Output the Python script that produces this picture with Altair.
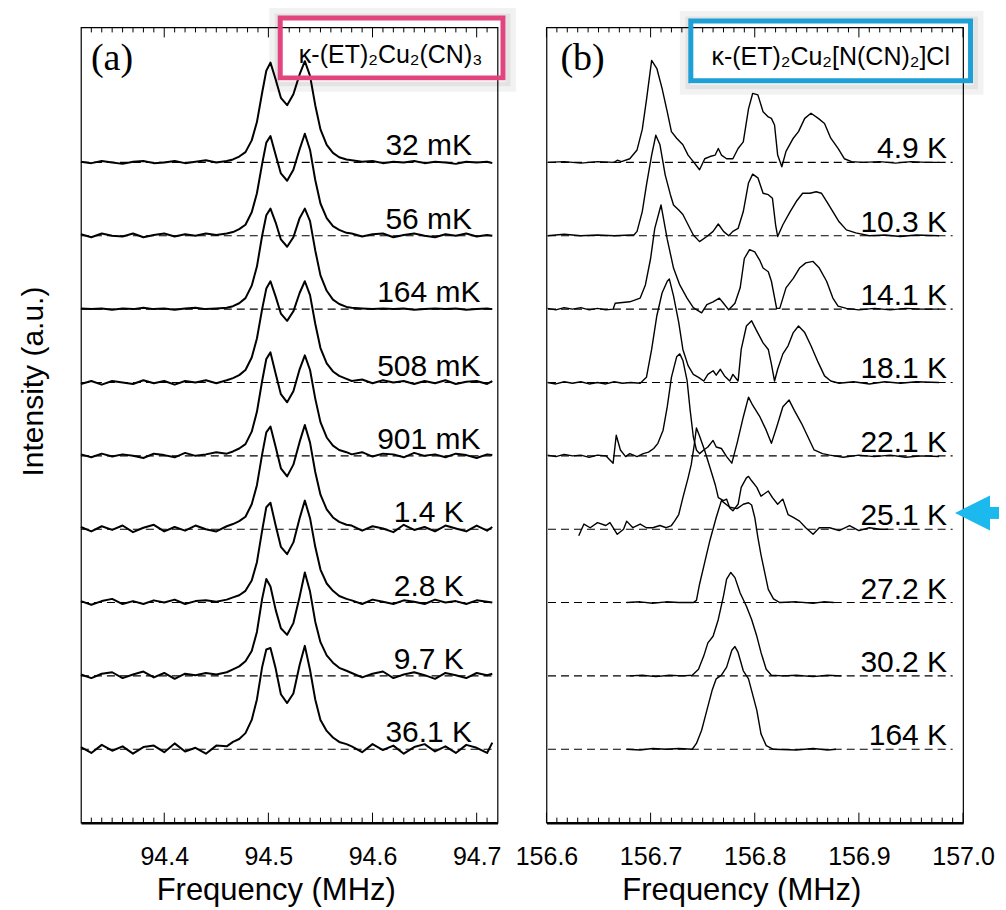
import altair as alt
import pandas as pd

FONT = "Liberation Sans"
PINK = "#E2447E"
BLUE = "#1E9FD6"
ARROW = "#1CB9EE"

# ---------------- panel (a): kappa-(ET)2Cu2(CN)3 ----------------
A_LABELS = ["32 mK", "56 mK", "164 mK", "508 mK", "901 mK", "1.4 K", "2.8 K", "9.7 K", "36.1 K"]
A_OFFSETS = [8, 7, 6, 5, 4, 3, 2, 1, 0]
A_FREQ = [94.32, 94.33, 94.34, 94.35, 94.36, 94.37, 94.38, 94.39, 94.40, 94.41, 94.42, 94.43, 94.44, 94.45, 94.46,
          94.466, 94.472, 94.478, 94.484, 94.489, 94.494, 94.498, 94.502, 94.507, 94.512, 94.518, 94.524, 94.530,
          94.535, 94.540, 94.545, 94.550, 94.556, 94.562, 94.568, 94.575,
          94.58, 94.59, 94.60, 94.61, 94.62, 94.63, 94.64, 94.65, 94.66, 94.67, 94.68, 94.69, 94.70, 94.71, 94.715]
A_32MK = [0.01, -0.01, 0.02, 0, -0.02, 0.01, 0.02, -0.01, 0, 0.02, -0.01, 0.01, 0.03, 0, 0.02,
          0.04, 0.08, 0.14, 0.30, 0.55, 0.95, 1.25, 1.36, 1.13, 0.88, 0.78, 0.93, 1.20, 1.38, 1.18, 0.78, 0.45, 0.24, 0.13, 0.07, 0.04,
          0.03, 0.01, 0.02, -0.01, 0.01, 0, 0.02, -0.01, 0.01, 0, -0.02, 0.01, 0, 0.01, -0.01]
A_56MK = [0.02, -0.02, 0.03, 0, -0.01, 0.03, -0.02, 0.01, 0.03, -0.01, 0.02, 0, 0.03, 0.01, 0.03,
          0.05, 0.09, 0.15, 0.32, 0.58, 0.98, 1.27, 1.36, 1.10, 0.85, 0.75, 0.90, 1.18, 1.39, 1.17, 0.76, 0.44, 0.24, 0.13, 0.08, 0.04,
          0.03, -0.01, 0.02, 0.03, -0.02, 0.01, 0.03, 0, -0.02, 0.02, 0, 0.03, -0.01, 0.01, 0]
A_164MK = [0.01, 0, 0.01, -0.01, 0.01, 0, 0.02, 0, 0.01, -0.01, 0.01, 0.02, 0, 0.01, 0.02,
           0.04, 0.08, 0.15, 0.32, 0.58, 1.00, 1.28, 1.37, 1.18, 0.95, 0.85, 0.98, 1.24, 1.37, 1.20, 0.80, 0.46, 0.25, 0.13, 0.07, 0.03,
           0.02, 0.01, 0, 0.01, 0, 0.01, -0.01, 0, 0.01, 0, 0.01, -0.01, 0, 0.01, 0]
A_508MK = [-0.02, 0.02, -0.03, 0.02, 0, -0.02, 0.03, -0.01, 0.02, -0.03, 0.02, 0, 0.03, -0.01, 0.03,
           0.06, 0.10, 0.17, 0.34, 0.60, 1.00, 1.28, 1.38, 1.17, 0.94, 0.84, 0.97, 1.22, 1.38, 1.19, 0.80, 0.47, 0.26, 0.15, 0.09, 0.05,
           0.02, 0.04, -0.01, 0.03, 0, 0.02, -0.02, 0.02, -0.01, 0.03, -0.02, 0.01, 0.02, -0.02, 0.02]
A_901MK = [0.02, -0.02, 0.03, -0.01, 0.02, 0, -0.03, 0.03, 0.01, -0.02, 0.04, 0, 0.02, 0.05, 0.03,
           0.06, 0.10, 0.16, 0.33, 0.60, 1.02, 1.32, 1.41, 1.12, 0.84, 0.73, 0.88, 1.18, 1.37, 1.17, 0.78, 0.46, 0.25, 0.14, 0.08, 0.05,
           0.02, 0.05, -0.01, 0.03, 0.02, -0.02, 0.04, 0, 0.02, -0.02, 0.03, 0.01, -0.03, 0.02, 0.01]
A_1_4K = [0.03, -0.03, 0.04, -0.01, 0.05, -0.04, 0.02, 0.06, -0.03, 0.03, -0.02, 0.05, 0, -0.03, 0.04,
          0.07, 0.11, 0.17, 0.34, 0.60, 1.02, 1.32, 1.40, 1.12, 0.83, 0.72, 0.88, 1.19, 1.42, 1.18, 0.78, 0.47, 0.27, 0.16, 0.10, 0.06,
          0.05, -0.02, 0.04, 0.01, -0.04, 0.06, -0.01, 0.03, -0.03, 0.05, 0.01, -0.03, 0.05, -0.02, 0.03]
A_2_8K = [0.02, -0.03, 0.02, 0.05, -0.02, 0.02, -0.02, 0.03, 0, 0.04, -0.02, 0.02, 0.03, 0.01, 0.04,
          0.07, 0.10, 0.16, 0.30, 0.55, 0.98, 1.30, 1.36, 1.05, 0.76, 0.66, 0.82, 1.15, 1.39, 1.15, 0.76, 0.45, 0.26, 0.16, 0.09, 0.05,
          0.03, -0.02, 0.04, 0.01, -0.02, 0.03, 0.01, -0.02, 0.04, 0, 0.02, -0.02, 0.03, 0.01, 0]
A_9_7K = [0.02, -0.03, 0.03, 0.05, -0.03, 0.02, 0.06, -0.02, 0.04, -0.04, 0.03, 0.01, 0.04, 0.02, 0.05,
          0.09, 0.13, 0.20, 0.34, 0.60, 1.05, 1.32, 1.22, 0.90, 0.65, 0.56, 0.72, 1.08, 1.41, 1.15, 0.74, 0.46, 0.28, 0.18, 0.11, 0.07,
          0.04, -0.02, 0.03, 0.06, -0.03, 0.02, 0.05, 0.01, -0.04, 0.04, 0.01, -0.03, 0.04, 0.01, 0.03]
A_36_1K = [0.03, -0.05, 0.06, -0.02, 0.04, -0.06, 0.03, 0.05, -0.04, 0.08, -0.03, 0.02, -0.06, 0.05, 0.04,
           0.10, 0.14, 0.22, 0.40, 0.68, 1.12, 1.36, 1.38, 1.10, 0.75, 0.63, 0.76, 1.15, 1.41, 1.08, 0.68, 0.40, 0.25, 0.16, 0.10, 0.07,
           0.04, -0.04, 0.07, -0.01, 0.05, -0.06, 0.03, 0.07, -0.03, 0.04, -0.05, 0.06, 0.02, -0.05, 0.09]
A_SERIES = [A_32MK, A_56MK, A_164MK, A_508MK, A_901MK, A_1_4K, A_2_8K, A_9_7K, A_36_1K]
A_TICK_LABELS = [94.4, 94.5, 94.6, 94.7]
A_MINOR = [94.33, 94.34, 94.35, 94.36, 94.37, 94.38, 94.39, 94.41, 94.42, 94.43, 94.44, 94.45, 94.46, 94.47, 94.48,
           94.49, 94.51, 94.52, 94.53, 94.54, 94.55, 94.56, 94.57, 94.58, 94.59, 94.61, 94.62, 94.63, 94.64, 94.65,
           94.66, 94.67, 94.68, 94.69, 94.71]

# ---------------- panel (b): kappa-(ET)2Cu2[N(CN)2]Cl ----------------
B_LABELS = ["4.9 K", "10.3 K", "14.1 K", "18.1 K", "22.1 K", "25.1 K", "27.2 K", "30.2 K", "164 K"]
B_OFFSETS = [8, 7, 6, 5, 4, 3, 2, 1, 0]
B_F_4_9K = [156.601, 156.617, 156.633, 156.649, 156.665, 156.668, 156.672, 156.680, 156.687, 156.692, 156.696, 156.701,
            156.706, 156.711, 156.716, 156.720, 156.725, 156.731, 156.736, 156.741, 156.747, 156.752, 156.757, 156.762,
            156.765, 156.768, 156.773, 156.779, 156.784, 156.789, 156.794, 156.798, 156.803, 156.808, 156.813, 156.816,
            156.819, 156.822, 156.826, 156.830, 156.837, 156.842, 156.848, 156.854, 156.861, 156.867, 156.873, 156.880,
            156.886, 156.893, 156.904, 156.920, 156.935, 156.950, 156.965, 156.977]
B_I_4_9K = [0, 0.01, -0.01, 0.01, 0, 0.03, 0.01, 0.05, 0.17, 0.45, 0.85, 1.39, 1.28, 1.01, 0.69, 0.42, 0.33, 0.24, 0.10,
            0.01, -0.10, 0.05, 0.08, 0.10, 0.19, 0.10, 0.05, 0.05, 0.19, 0.28, 0.73, 0.94, 0.92, 0.69, 0.62, 0.60, 0.51,
            0.10, -0.06, 0.15, 0.33, 0.42, 0.60, 0.67, 0.60, 0.53, 0.33, 0.19, 0.05, 0.01, 0, 0.01, -0.01, 0.01, 0, 0]
B_F_10_3K = [156.601, 156.617, 156.633, 156.649, 156.665, 156.681, 156.684, 156.687, 156.692, 156.696, 156.701, 156.705,
             156.709, 156.714, 156.719, 156.722, 156.727, 156.731, 156.736, 156.741, 156.747, 156.754, 156.760, 156.765,
             156.770, 156.775, 156.779, 156.784, 156.789, 156.794, 156.798, 156.803, 156.808, 156.813, 156.817, 156.820,
             156.822, 156.827, 156.834, 156.840, 156.846, 156.853, 156.859, 156.864, 156.869, 156.875, 156.881, 156.888,
             156.897, 156.910, 156.925, 156.940, 156.955, 156.977]
B_I_10_3K = [0, 0.02, 0, 0.01, 0, 0.01, 0.01, 0.06, 0.33, 0.69, 1.10, 1.37, 1.24, 0.83, 0.56, 0.42, 0.35, 0.29, 0.15, 0.01,
             -0.08, -0.01, 0.06, 0.16, 0.06, 0, 0.06, 0.10, 0.33, 0.72, 0.84, 0.79, 0.58, 0.56, 0.51, 0.15, -0.01, 0.15,
             0.33, 0.47, 0.58, 0.58, 0.60, 0.58, 0.47, 0.33, 0.19, 0.08, 0.04, 0, 0.01, -0.01, 0.01, 0]
B_F_14_1K = [156.601, 156.609, 156.617, 156.625, 156.633, 156.641, 156.649, 156.657, 156.664, 156.666, 156.680, 156.690,
             156.695, 156.700, 156.704, 156.710, 156.716, 156.722, 156.728, 156.735, 156.741, 156.749, 156.754, 156.760,
             156.766, 156.770, 156.775, 156.781, 156.786, 156.790, 156.795, 156.800, 156.805, 156.808, 156.813, 156.816,
             156.821, 156.824, 156.830, 156.837, 156.843, 156.849, 156.856, 156.862, 156.869, 156.875, 156.880, 156.888,
             156.900, 156.915, 156.930, 156.945, 156.960, 156.977]
B_I_14_1K = [0.01, -0.01, 0.02, 0, 0.02, -0.01, 0.01, -0.01, 0, 0.08, 0.10, 0.15, 0.33, 0.69, 1.10, 1.42, 0.95, 0.56, 0.33,
             0.15, 0.02, -0.05, 0.06, 0.10, 0.15, 0.08, -0.01, 0.08, 0.29, 0.69, 0.81, 0.78, 0.66, 0.56, 0.51, 0.38, 0.01,
             0.01, 0.29, 0.42, 0.56, 0.63, 0.65, 0.56, 0.38, 0.15, 0.04, 0.01, -0.01, 0.01, -0.01, 0.01, 0, 0]
B_F_18_1K = [156.601, 156.609, 156.617, 156.625, 156.633, 156.641, 156.649, 156.657, 156.665, 156.673, 156.681, 156.690,
             156.696, 156.701, 156.706, 156.711, 156.716, 156.718, 156.722, 156.727, 156.731, 156.736, 156.741, 156.746,
             156.751, 156.755, 156.760, 156.763, 156.767, 156.771, 156.776, 156.779, 156.784, 156.787, 156.792, 156.797,
             156.802, 156.808, 156.813, 156.816, 156.819, 156.822, 156.827, 156.832, 156.837, 156.842, 156.848, 156.854,
             156.861, 156.867, 156.873, 156.881, 156.895, 156.910, 156.925, 156.940, 156.955, 156.977]
B_I_18_1K = [0, -0.02, 0.01, -0.01, 0.01, -0.02, 0, -0.02, 0.01, -0.01, 0, -0.01, 0.07, 0.45, 0.91, 1.22, 1.38, 1.41, 1.18,
             0.82, 0.45, 0.23, 0.11, 0.07, 0.02, 0.11, 0.16, 0.10, 0.18, 0.09, 0.02, 0.11, 0.02, 0.45, 0.77, 0.84, 0.70,
             0.54, 0.45, 0.25, 0.02, 0.18, 0.39, 0.50, 0.68, 0.77, 0.68, 0.50, 0.27, 0.09, 0.02, -0.01, 0.01, -0.02, 0.01,
             -0.01, 0.01, 0]
B_F_22_1K = [156.601, 156.609, 156.617, 156.625, 156.633, 156.641, 156.649, 156.657, 156.664, 156.667, 156.671, 156.676,
             156.680, 156.687, 156.693, 156.698, 156.703, 156.707, 156.712, 156.716, 156.720, 156.725, 156.728, 156.731,
             156.735, 156.738, 156.741, 156.744, 156.747, 156.751, 156.755, 156.760, 156.763, 156.768, 156.773, 156.778,
             156.783, 156.789, 156.794, 156.798, 156.805, 156.811, 156.816, 156.821, 156.827, 156.833, 156.838, 156.845,
             156.851, 156.857, 156.865, 156.872, 156.885, 156.900, 156.915, 156.930, 156.945, 156.960, 156.977]
B_I_22_1K = [0.01, -0.01, 0.02, 0, 0.01, -0.02, 0.01, 0, -0.10, 0.28, 0.08, -0.01, 0.03, -0.01, 0.03, 0.05, 0.10, 0.17,
             0.35, 0.67, 1.07, 1.35, 1.39, 1.30, 1.03, 0.62, 0.26, 0.08, 0.03, 0.08, 0.12, 0.21, 0.12, 0.10, -0.01, -0.10,
             0.17, 0.53, 0.80, 0.69, 0.53, 0.35, 0.17, 0.39, 0.67, 0.76, 0.62, 0.44, 0.26, 0.08, 0.03, 0.01, -0.02, 0.01,
             -0.01, 0.01, -0.02, 0, -0.01]
B_F_25_1K = [156.631, 156.636, 156.642, 156.649, 156.657, 156.661, 156.668, 156.674, 156.677, 156.683, 156.690, 156.696,
             156.702, 156.709, 156.715, 156.720, 156.723, 156.727, 156.731, 156.736, 156.739, 156.742, 156.744, 156.747,
             156.752, 156.757, 156.762, 156.765, 156.770, 156.773, 156.776, 156.779, 156.784, 156.787, 156.792, 156.794,
             156.797, 156.802, 156.806, 156.813, 156.817, 156.822, 156.827, 156.832, 156.837, 156.843, 156.849, 156.856,
             156.862, 156.872, 156.881, 156.891, 156.900, 156.910, 156.920, 156.928]
B_I_25_1K = [-0.09, 0.07, 0.02, 0.09, 0.05, 0.09, -0.07, 0, 0.11, 0.02, 0.07, 0.02, 0.02, 0.05, 0.02, 0.05, 0.11, 0.20,
             0.43, 0.70, 0.88, 1.16, 1.38, 1.27, 1.07, 0.84, 0.61, 0.43, 0.39, 0.41, 0.29, 0.25, 0.34, 0.57, 0.70, 0.72,
             0.66, 0.57, 0.45, 0.52, 0.43, 0.34, 0.41, 0.20, 0.16, 0.11, 0.02, -0.07, 0.02, 0.02, -0.02, 0.05, -0.02, 0.02,
             0, 0]
B_F_27_2K = [156.677, 156.690, 156.702, 156.715, 156.727, 156.741, 156.744, 156.747, 156.752, 156.757, 156.763, 156.768,
             156.776, 156.783, 156.789, 156.794, 156.797, 156.800, 156.803, 156.806, 156.810, 156.813, 156.818, 156.824,
             156.840, 156.856, 156.866, 156.876]
B_I_27_2K = [0, 0.01, -0.01, 0.01, 0, 0, 0.03, 0.25, 0.55, 0.85, 1.16, 1.39, 1.30, 1.28, 1.34, 1.36, 1.33, 1.16, 0.89,
             0.65, 0.38, 0.18, 0.05, 0, 0.01, -0.01, 0.01, 0]
B_F_30_2K = [156.680, 156.692, 156.705, 156.718, 156.730, 156.740, 156.746, 156.751, 156.755, 156.760, 156.765, 156.770,
             156.773, 156.777, 156.781, 156.786, 156.792, 156.797, 156.802, 156.806, 156.811, 156.816, 156.827, 156.840,
             156.856, 156.870, 156.883]
B_I_30_2K = [0, 0.01, -0.01, 0.01, 0, 0.01, 0.09, 0.27, 0.45, 0.54, 0.77, 1.09, 1.32, 1.41, 1.34, 1.13, 0.95, 0.77, 0.54,
             0.32, 0.09, 0.01, 0, 0.01, -0.01, 0.01, 0]
B_F_164K = [156.677, 156.690, 156.702, 156.715, 156.727, 156.740, 156.744, 156.749, 156.754, 156.759, 156.763, 156.768,
            156.773, 156.778, 156.781, 156.784, 156.789, 156.794, 156.797, 156.802, 156.806, 156.811, 156.818, 156.840,
            156.856, 156.870, 156.878]
B_I_164K = [0, -0.01, 0.01, 0, 0.01, 0, 0.08, 0.26, 0.53, 0.80, 0.96, 1.01, 1.12, 1.35, 1.40, 1.32, 1.07, 0.96, 0.80, 0.53,
            0.21, 0.05, 0, -0.01, 0.01, -0.01, 0]
B_FREQS = [B_F_4_9K, B_F_10_3K, B_F_14_1K, B_F_18_1K, B_F_22_1K, B_F_25_1K, B_F_27_2K, B_F_30_2K, B_F_164K]
B_SERIES = [B_I_4_9K, B_I_10_3K, B_I_14_1K, B_I_18_1K, B_I_22_1K, B_I_25_1K, B_I_27_2K, B_I_30_2K, B_I_164K]
B_TICK_LABELS = [156.6, 156.7, 156.8, 156.9, 157.0]
B_MINOR = [156.61, 156.62, 156.63, 156.64, 156.65, 156.66, 156.67, 156.68, 156.69, 156.71, 156.72, 156.73, 156.74,
           156.75, 156.76, 156.77, 156.78, 156.79, 156.81, 156.82, 156.83, 156.84, 156.85, 156.86, 156.87, 156.88,
           156.89, 156.91, 156.92, 156.93, 156.94, 156.95, 156.96, 156.97, 156.98, 156.99]

W, H = 417, 796
YDOM = [-1.0, 9.84]


def lines_frame(freqs_list, series, labels, offsets):
    rows = []
    for fr, vals, lab, off in zip(freqs_list, series, labels, offsets):
        assert len(fr) == len(vals), lab
        for f, v in zip(fr, vals):
            rows.append({"f": f, "y": off + v, "series": lab})
    return pd.DataFrame(rows)


ONE = pd.DataFrame({"k": [0]})


def panel(xdom, tick_vals, minor, df_lines, base_x, lab_x, lab_dy, lab_align, labels, offsets,
          yaxis, tag, tag_x, lw, extras):
    xs = alt.Scale(domain=xdom, nice=False, zero=False)
    ys = alt.Scale(domain=YDOM, nice=False, zero=False)
    xaxis = alt.Axis(values=tick_vals, format=".1f", tickSize=0, labelPadding=22, labelFontSize=25,
                     labelFont=FONT, labelColor="black", labelFlush=False, domainWidth=2.5,
                     domainColor="black", grid=False, title="Frequency (MHz)", titleFont=FONT,
                     titleFontSize=31, titleFontWeight="normal", titleColor="black", titleX=195,
                     titleY=77, titleBaseline="alphabetic", titleAlign="center")

    def X(field):
        return alt.X(field, type="quantitative", scale=xs, axis=xaxis)

    def Y(field):
        return alt.Y(field, type="quantitative", scale=ys, axis=yaxis)

    df_base = pd.DataFrame({"f": [base_x[0]] * len(offsets), "f2": [base_x[1]] * len(offsets), "y": offsets})
    df_lab = pd.DataFrame({"f": [lab_x] * len(offsets), "y": [o + lab_dy for o in offsets], "label": labels})
    df_major = pd.DataFrame({"f": tick_vals})
    df_minor = pd.DataFrame({"f": minor})

    base = alt.Chart(df_base).mark_rule(strokeDash=[8, 5], strokeWidth=1.1, color="black").encode(
        x=X("f"), x2=alt.X2("f2"), y=Y("y"))
    lines = alt.Chart(df_lines).mark_line(color="black", strokeWidth=lw, strokeJoin="round").encode(
        x=X("f"), y=Y("y"), detail="series:N")
    tk = []
    for d, ln in ((df_major, 10), (df_minor, 5)):
        tk.append(alt.Chart(d).mark_rule(color="black", strokeWidth=1).encode(
            x=X("f"), y=alt.value(H), y2=alt.value(H - ln)))
        tk.append(alt.Chart(d).mark_rule(color="black", strokeWidth=1).encode(
            x=X("f"), y=alt.value(0), y2=alt.value(ln)))
    labs = alt.Chart(df_lab).mark_text(align=lab_align, baseline="alphabetic", fontSize=30, font=FONT,
                                       color="black").encode(x=X("f"), y=Y("y"), text="label:N")
    tagm = alt.Chart(ONE).mark_text(align="left", baseline="alphabetic", font="Liberation Serif",
                                    fontSize=38, color="black").encode(
        x=alt.value(tag_x), y=alt.value(43), text=alt.value(tag))
    return alt.layer(base, lines, *tk, labs, tagm, *extras).properties(width=W, height=H)


def box(x1, x2, y1, y2, color, text, tx, ty):
    sh1 = alt.Chart(ONE).mark_rect(fill="transparent", stroke="#000000", strokeOpacity=0.05,
                                   strokeWidth=10).encode(
        x=alt.value(x1 - 6), x2=alt.value(x2 + 8), y=alt.value(y1 - 5), y2=alt.value(y2 + 9))
    sh2 = alt.Chart(ONE).mark_rect(fill="transparent", stroke="#000000", strokeOpacity=0.06,
                                   strokeWidth=5).encode(
        x=alt.value(x1 - 3), x2=alt.value(x2 + 5), y=alt.value(y1 - 2), y2=alt.value(y2 + 6))
    fr = alt.Chart(ONE).mark_rect(fill="transparent", stroke=color, strokeWidth=5).encode(
        x=alt.value(x1), x2=alt.value(x2), y=alt.value(y1), y2=alt.value(y2))
    tx_ = alt.Chart(ONE).mark_text(align="center", baseline="alphabetic", font=FONT, fontSize=25,
                                   color="black").encode(x=alt.value(tx), y=alt.value(ty), text=alt.value(text))
    return [sh1, sh2, fr, tx_]


df_a = lines_frame([A_FREQ] * len(A_SERIES), A_SERIES, A_LABELS, A_OFFSETS)
df_b = lines_frame(B_FREQS, B_SERIES, B_LABELS, B_OFFSETS)

yaxis_a = alt.Axis(title="Intensity (a.u.)", labels=False, ticks=False, domain=False, grid=False,
                   titleFont=FONT, titleFontSize=30, titleFontWeight="normal", titleColor="black",
                   titleX=-47, titleY=354, titleAngle=270, titleAlign="center", titleBaseline="middle")

extras_a = box(199.5, 422.5, -9.5, 50.5, PINK, "κ-(ET)₂Cu₂(CN)₃", 310, 36)

arrow_shaft = alt.Chart(ONE).mark_rule(color=ARROW, strokeWidth=12).encode(
    x=alt.value(436), x2=alt.value(453), y=alt.value(486))
arrow_head = alt.Chart(ONE).mark_point(shape="M-1,0L1,-1L1,1Z", size=1225, filled=True, color=ARROW,
                                       opacity=1).encode(x=alt.value(426.5), y=alt.value(486))
extras_b = box(144.5, 424.5, -6.5, 53.5, BLUE, "κ-(ET)₂Cu₂[N(CN)₂]Cl", 284.5, 38) + [arrow_shaft, arrow_head]

pa = panel([94.32, 94.72], A_TICK_LABELS, A_MINOR, df_a, (94.32, 94.715), 94.654, 0.095, "center",
           A_LABELS, A_OFFSETS, yaxis_a, "(a)", 10, 2.0, extras_a)
pb = panel([156.6, 157.0], B_TICK_LABELS, B_MINOR, df_b, (156.6015, 156.99), 156.9847, 0.055, "right",
           B_LABELS, B_OFFSETS, None, "(b)", 14, 1.4, extras_b)

chart = alt.hconcat(pa, pb, spacing=49, bounds="flush",
                    padding={"left": 18, "top": 6, "right": 0, "bottom": 0}).configure_view(
    stroke="black", strokeWidth=1.2)

chart.save("out.html", embed_options={"renderer": "svg", "actions": False})
